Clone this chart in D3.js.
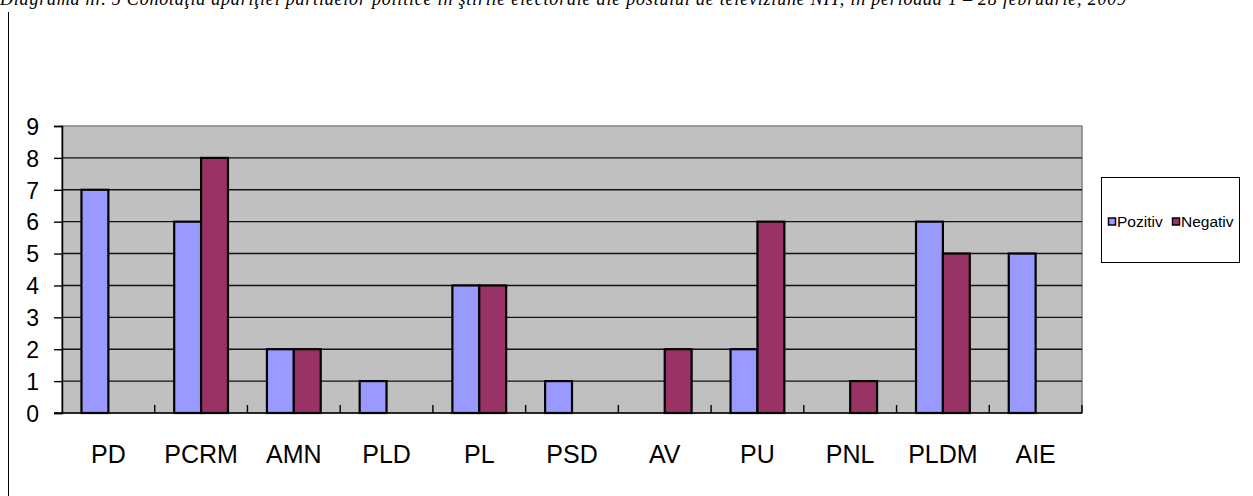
<!DOCTYPE html>
<html>
<head>
<meta charset="utf-8">
<script src="https://cdn.jsdelivr.net/npm/d3@7"></script>
<style>
  body { margin: 0; background: #fff; }
  svg { display: block; }
  .caption { font-family: "Liberation Serif", "Times New Roman", serif; font-style: italic; font-size: 18px; }
  .tick text { font-family: "Liberation Sans", Arial, sans-serif; fill: #000; }
</style>
</head>
<body>
<svg width="1253" height="496"></svg>
<script>
const categories = ['PD', 'PCRM', 'AMN', 'PLD', 'PL', 'PSD', 'AV', 'PU', 'PNL', 'PLDM', 'AIE'];
const seriesNames = ['Pozitiv', 'Negativ'];
const pozitiv = [7, 6, 2, 1, 4, 1, 0, 2, 0, 6, 5];
const negativ = [0, 8, 2, 0, 4, 0, 2, 6, 1, 5, 0];
const yTicks = [0, 1, 2, 3, 4, 5, 6, 7, 8, 9];
const colors = ['#9999FF', '#993366'];
const caption = 'Diagrama nr. 5 Conotaţia apariţiei partidelor politice în ştirile electorale ale postului de televiziune NIT, în perioada 1 – 28 februarie, 2009';

const rows = categories.map((c, i) => ({ cat: c, values: [pozitiv[i], negativ[i]] }));

const svg = d3.select('svg');

const plot = { left: 62, right: 1082, top: 126, bottom: 413 };

// caption, cut off at the top of the page as in the source
svg.append('text')
    .attr('class', 'caption')
    .attr('x', 0)
    .attr('y', 5)
    .attr('textLength', 1126)
    .attr('lengthAdjust', 'spacing')
    .text(caption);

// left frame line
svg.append('line')
    .attr('x1', 8.5).attr('x2', 8.5)
    .attr('y1', 12).attr('y2', 496)
    .attr('stroke', '#000');

const x = d3.scaleBand()
    .domain(categories)
    .range([plot.left, plot.right])
    .paddingInner(0.42)
    .paddingOuter(0.21);

const xSub = d3.scaleBand()
    .domain(seriesNames)
    .range([0, x.bandwidth()]);

const y = d3.scaleLinear()
    .domain([0, 9])
    .range([plot.bottom, plot.top]);

// plot background
svg.append('rect')
    .attr('x', plot.left).attr('y', plot.top)
    .attr('width', plot.right - plot.left)
    .attr('height', plot.bottom - plot.top)
    .attr('fill', '#C0C0C0')
    .attr('stroke', '#808080')
    .attr('stroke-width', 1.5);

// gridlines
svg.append('g')
    .selectAll('line')
    .data(yTicks.slice(1, -1))
    .enter()
        .append('line')
        .attr('x1', plot.left).attr('x2', plot.right)
        .attr('y1', d => y(d)).attr('y2', d => y(d))
        .attr('stroke', '#111')
        .attr('stroke-width', 1.4);

// bars
const groups = svg.append('g')
    .selectAll('g')
    .data(rows)
    .enter()
        .append('g')
        .attr('transform', d => `translate(${x(d.cat)},0)`);

groups.selectAll('rect')
    .data(d => d.values.map((v, i) => ({ key: seriesNames[i], value: v, i })))
    .enter()
        .filter(d => d.value > 0)
        .append('rect')
        .attr('x', d => xSub(d.key))
        .attr('y', d => y(d.value))
        .attr('width', xSub.bandwidth())
        .attr('height', d => y(0) - y(d.value))
        .attr('fill', d => colors[d.i])
        .attr('stroke', '#000')
        .attr('stroke-width', 2.2);

// y axis
const yAxis = d3.axisLeft(y)
    .tickValues(yTicks)
    .tickSize(8)
    .tickPadding(15);

const yAxisG = svg.append('g')
    .attr('transform', `translate(${plot.left},0)`)
    .call(yAxis);
yAxisG.select('.domain').attr('stroke', '#000').attr('stroke-width', 1.5);
yAxisG.selectAll('.tick line').attr('stroke', '#000').attr('stroke-width', 1.4);
yAxisG.selectAll('.tick text').attr('font-size', 23).attr('dy', '0.36em');

// x axis: ticks between categories, pointing up
const step = x.step();
const boundaries = d3.range(1, categories.length + 1).map(i => plot.left + i * step);
svg.append('g')
    .selectAll('line')
    .data(boundaries)
    .enter()
        .append('line')
        .attr('x1', d => d).attr('x2', d => d)
        .attr('y1', plot.bottom).attr('y2', plot.bottom - 8)
        .attr('stroke', '#000')
        .attr('stroke-width', 1.4);

svg.append('line')
    .attr('x1', plot.left - 8).attr('x2', plot.right)
    .attr('y1', plot.bottom).attr('y2', plot.bottom)
    .attr('stroke', '#000')
    .attr('stroke-width', 1.5);

const xAxisG = svg.append('g')
    .attr('transform', `translate(0,${plot.bottom})`)
    .call(d3.axisBottom(x).tickSize(0).tickPadding(32));
xAxisG.select('.domain').remove();
xAxisG.selectAll('.tick text').attr('font-size', 25).attr('dy', '0.71em');

// legend
const legend = svg.append('g').attr('transform', 'translate(1101,177)');
legend.append('rect')
    .attr('x', 0.5).attr('y', 0.5)
    .attr('width', 138).attr('height', 85)
    .attr('fill', '#fff')
    .attr('stroke', '#000');

const legendX = [7, 71];
const items = legend.selectAll('g.item')
    .data(seriesNames)
    .enter()
        .append('g')
        .attr('class', 'item')
        .attr('transform', (d, i) => `translate(${legendX[i]},45)`);
items.append('rect')
    .attr('x', 0.5).attr('y', -4)
    .attr('width', 7).attr('height', 7)
    .attr('fill', (d, i) => colors[i])
    .attr('stroke', '#000')
    .attr('stroke-width', 1.5);
items.append('text')
    .attr('x', 9)
    .attr('y', 5)
    .attr('font-family', '"Liberation Sans", Arial, sans-serif')
    .attr('font-size', 15.5)
    .text(d => d);
</script>
</body>
</html>
